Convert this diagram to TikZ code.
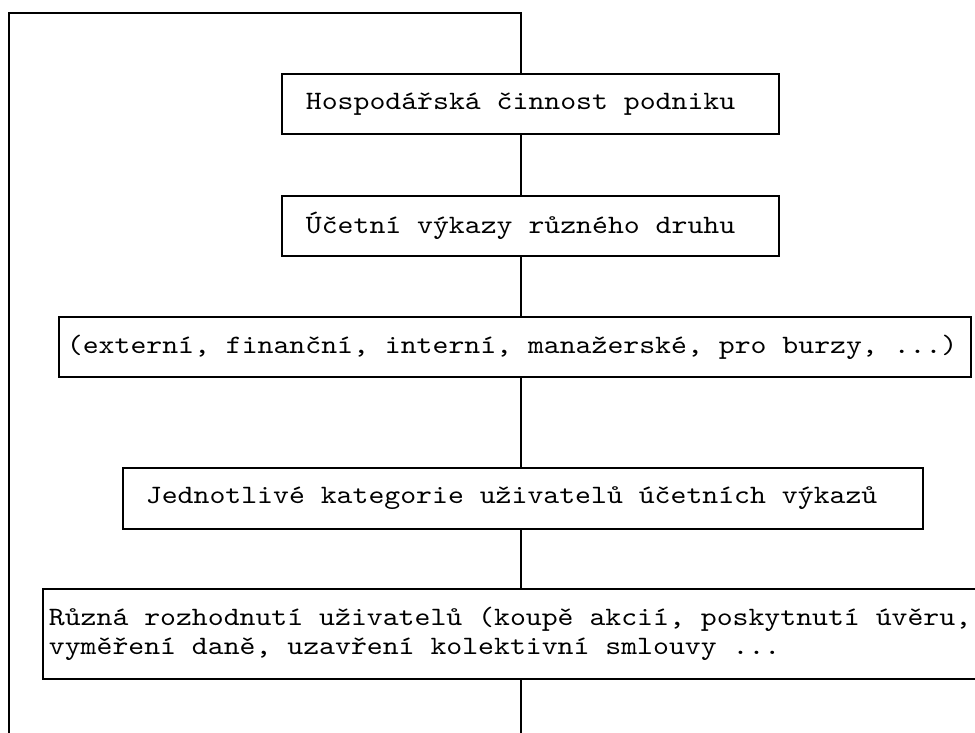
\documentclass[tikz,border=0pt]{standalone}
\usepackage{fontspec}
\newfontfamily\boxfont[Extension=.otf, FakeStretch=1.143]{lmmono10-regular}

\begin{document}
\begin{tikzpicture}[x=1pt, y=-1pt,
	box/.style = {draw, line width=1.8pt, anchor=north west, align=left, inner ysep=0pt,
		font=\boxfont\fontsize{26.5}{29}\selectfont,
		execute at begin node={\spaceskip=15.9pt\relax}},
	line/.style = {line width=1.6pt}]

	\useasboundingbox (0,0) rectangle (975,733);
	\clip (0,0) rectangle (975,733);

	\coordinate (axis) at (521,0);
	\coordinate (tl) at (9,13);
	\coordinate (tr) at (521,13);
	\coordinate (bl) at (9,733);
	\coordinate (br) at (521,733);

	\node[box, minimum width=497, minimum height=60, inner xsep=24pt, text width=449pt] (1) at (281,73) {Hospodářská činnost podniku};
	\node[box, minimum width=497, minimum height=60, inner xsep=24pt, text width=449pt] (2) at (281,195) {Účetní výkazy různého druhu};
	\node[box, minimum width=912, minimum height=60, inner xsep=8pt, text width=896pt] (3) at (58,316) {(externí, finanční, interní, manažerské, pro burzy, ...)};
	\node[box, minimum width=800, minimum height=61, inner xsep=23pt, text width=754pt] (4) at (122,467) {Jednotlivé kategorie uživatelů účetních výkazů};
	\node[box, minimum width=958, minimum height=90, inner xsep=6pt, text width=946pt] (5) at (42,588) {Různá rozhodnutí uživatelů (koupě akcií, poskytnutí úvěru,\\vyměření daně, uzavření kolektivní smlouvy ...};

	\path[line]
	(1.south -| axis) edge (2.north -| axis)
	(2.south -| axis) edge (3.north -| axis)
	(3.south -| axis) edge (4.north -| axis)
	(4.south -| axis) edge (5.north -| axis)
	(5.south -| axis) edge (br);

	\draw[line] (bl) -- (tl) -- (tr) -- (1.north -| axis);

\end{tikzpicture}
\end{document}
